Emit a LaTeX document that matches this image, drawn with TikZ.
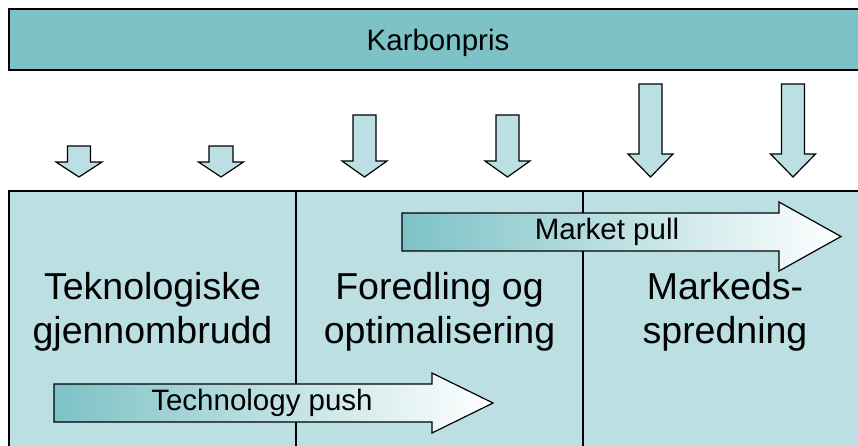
\documentclass[tikz,border=0pt]{standalone}
\usepackage{fontspec}
\setmainfont{Liberation Sans}
\definecolor{barteal}{HTML}{7DC2C6}
\definecolor{boxblue}{HTML}{BCDFE4}
\tikzset{
  outline/.style={draw=black, line width=1.2pt},
  banner/.style={outline, fill=barteal},
  phasebox/.style={outline, fill=boxblue},
  downarrow/.style={outline, fill=boxblue, line join=miter},
  flowarrow/.style={outline, left color=barteal, right color=white, line join=miter},
  bigtext/.style={font=\fontsize{37.5}{44}\selectfont, align=center, text=black},
  smalltext/.style={font=\fontsize{29.5}{32}\selectfont, text=black},
}
% block arrow pointing down: centre x, top y, head y, tip y, half shaft, half head
\newcommand\dnarrow[6]{%
  \draw[downarrow] (#1-#5,#2) -- (#1+#5,#2) -- (#1+#5,#3) -- (#1+#6,#3)
    -- (#1,#4) -- (#1-#6,#3) -- (#1-#5,#3) -- cycle;}
% block arrow pointing right: left x, body top, body bottom, head x, head top, head bottom, tip x
\newcommand\rtarrow[7]{%
  \draw[flowarrow] (#1,#2) -- (#4,#2) -- (#4,#5) -- (#7,{(#5+#6)/2})
    -- (#4,#6) -- (#4,#3) -- (#1,#3) -- cycle;}
\begin{document}
\begin{tikzpicture}[x=1pt, y=-1pt]
  \useasboundingbox (0,0) rectangle (858,445);
  \clip (0,0) rectangle (858,445);

  % carbon price banner
  \draw[banner] (9,9) rectangle (880,70);
  \node[smalltext] (karbon) at (438,43) {Karbonpris};

  % downward pressure arrows, growing to the right
  \dnarrow{79}{146}{162}{177}{11.5}{23}
  \dnarrow{221}{146}{162}{177}{12}{22.5}
  \dnarrow{364.5}{115}{161}{177}{11.5}{22.5}
  \dnarrow{507.5}{115}{161}{177}{11.5}{22.5}
  \dnarrow{650.5}{84}{154}{177}{11.5}{22.5}
  \dnarrow{793}{84}{154}{177}{11.5}{22.5}

  % three phase columns
  \draw[phasebox] (9,191) rectangle (880,460);
  \draw[outline] (296,191) -- (296,460);
  \draw[outline] (583,191) -- (583,460);

  \node[bigtext, anchor=base] (tek) at (152.5,343) {Teknologiske\\gjennombrudd};
  \node[bigtext, anchor=base] (for) at (439.5,343) {Foredling og\\optimalisering};
  \node[bigtext, anchor=base] (mark) at (725,343) {Markeds-\\spredning};

  % push and pull arrows
  \rtarrow{402}{213}{251}{779}{202}{271}{841}
  \node[smalltext] (pull) at (607,232) {Market pull};
  \rtarrow{54}{384}{422}{432}{373}{433}{493}
  \node[smalltext] (push) at (262,403) {Technology push};
\end{tikzpicture}
\end{document}
